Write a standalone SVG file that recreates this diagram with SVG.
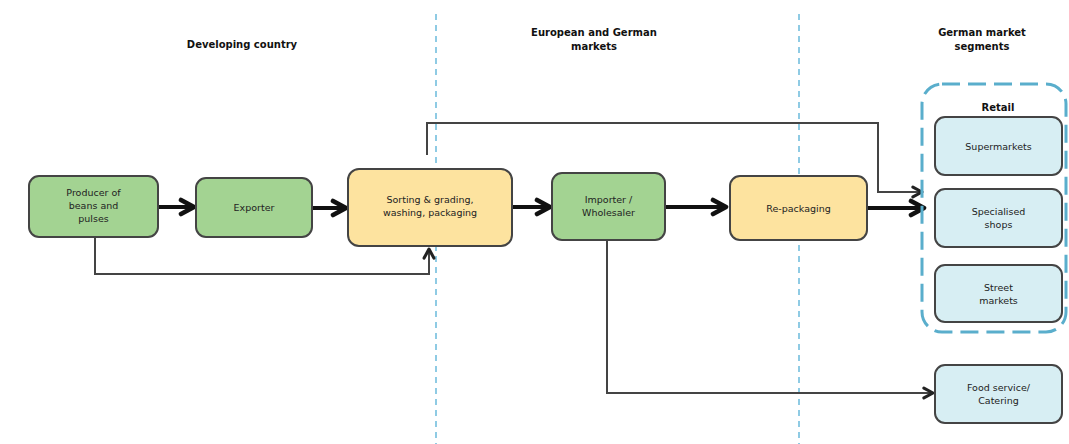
<svg xmlns="http://www.w3.org/2000/svg" width="1069" height="444" viewBox="0 0 1069 444">
<style>
.t{font-family:"DejaVu Sans",Verdana,sans-serif;font-size:9.5px;fill:#222;text-anchor:middle}
.h{font-family:"DejaVu Sans",Verdana,sans-serif;font-size:10px;font-weight:bold;fill:#111;text-anchor:middle}
.g{fill:#a3d392;stroke:#444;stroke-width:2}
.y{fill:#fde39f;stroke:#444;stroke-width:2}
.b{fill:#d7eef3;stroke:#444;stroke-width:2}
.sep{stroke:#6bbbdc;stroke-width:1.5;stroke-dasharray:6 5;fill:none}
.thick{stroke:#111;stroke-width:4;fill:none}
.thin{stroke:#444;stroke-width:2;fill:none}
</style>
<defs>
<marker id="ahk" viewBox="0 0 10 10" refX="8" refY="5" markerWidth="20" markerHeight="20" orient="auto" markerUnits="userSpaceOnUse">
<path d="M1.5,1.5 L8,5 L1.5,8.5" fill="none" stroke="#111" stroke-width="2.3" stroke-linecap="round" stroke-linejoin="round"/>
</marker>
<marker id="aht" viewBox="0 0 10 10" refX="8" refY="5" markerWidth="14" markerHeight="14" orient="auto" markerUnits="userSpaceOnUse">
<path d="M1.5,1.5 L8,5 L1.5,8.5" fill="none" stroke="#222" stroke-width="2.2" stroke-linecap="round" stroke-linejoin="round"/>
</marker>
</defs>
<rect width="1069" height="444" fill="#fff"/>
<g id="separators">
<line class="sep" x1="436" y1="14" x2="436" y2="444"/>
<line class="sep" x1="799" y1="14" x2="799" y2="444"/>
</g>
<g id="headers">
<text class="h" x="242" y="48">Developing country</text>
<text class="h" x="594" y="36">European and German</text>
<text class="h" x="594" y="50">markets</text>
<text class="h" x="982" y="36">German market</text>
<text class="h" x="982" y="50">segments</text>
</g>
<g id="connectors">
<line class="thick" x1="158" y1="207" x2="194" y2="207" marker-end="url(#ahk)"/>
<line class="thick" x1="312" y1="208" x2="346" y2="208" marker-end="url(#ahk)"/>
<line class="thick" x1="512" y1="207" x2="550" y2="207" marker-end="url(#ahk)"/>
<line class="thick" x1="665" y1="207" x2="726" y2="207" marker-end="url(#ahk)"/>
<line class="thick" x1="867" y1="208" x2="924" y2="208" marker-end="url(#ahk)"/>
<polyline class="thin" points="95,238 95,274 429,274 429,249" marker-end="url(#aht)"/>
<polyline class="thin" points="427,155 427,123 878,123 878,192 922,192" marker-end="url(#aht)"/>
<polyline class="thin" points="607,241 607,393 933,393" marker-end="url(#aht)"/>
</g>
<g id="producer">
<rect class="g" x="29" y="176" width="129" height="61" rx="10"/>
<text class="t" x="93.5" y="196">Producer of</text>
<text class="t" x="93.5" y="209">beans and</text>
<text class="t" x="93.5" y="222">pulses</text>
</g>
<g id="exporter">
<rect class="g" x="196" y="178" width="116" height="59" rx="10"/>
<text class="t" x="254" y="211">Exporter</text>
</g>
<g id="sorting">
<rect class="y" x="348" y="169" width="164" height="77" rx="11"/>
<text class="t" x="430" y="203">Sorting &amp; grading,</text>
<text class="t" x="430" y="216">washing, packaging</text>
</g>
<g id="importer">
<rect class="g" x="552" y="173" width="113" height="67" rx="10"/>
<text class="t" x="608.5" y="203">Importer /</text>
<text class="t" x="608.5" y="216">Wholesaler</text>
</g>
<g id="repackaging">
<rect class="y" x="730" y="176" width="137" height="64" rx="10"/>
<text class="t" x="798.5" y="212">Re-packaging</text>
</g>
<g id="retail">
<rect x="922" y="84" width="144" height="248" rx="20" fill="none" stroke="#5aaecc" stroke-width="3" stroke-dasharray="18 8"/>
<text class="h" x="998" y="111">Retail</text>
</g>
<g id="supermarkets">
<rect class="b" x="935" y="117" width="127" height="58" rx="10"/>
<text class="t" x="998.5" y="150">Supermarkets</text>
</g>
<g id="specialised">
<rect class="b" x="935" y="189" width="127" height="58" rx="10"/>
<text class="t" x="998.5" y="215">Specialised</text>
<text class="t" x="998.5" y="228">shops</text>
</g>
<g id="street">
<rect class="b" x="935" y="265" width="127" height="57" rx="10"/>
<text class="t" x="998.5" y="291">Street</text>
<text class="t" x="998.5" y="304">markets</text>
</g>
<g id="foodservice">
<rect class="b" x="935" y="365" width="127" height="58" rx="10"/>
<text class="t" x="998.5" y="391">Food service/</text>
<text class="t" x="998.5" y="404">Catering</text>
</g>
</svg>
